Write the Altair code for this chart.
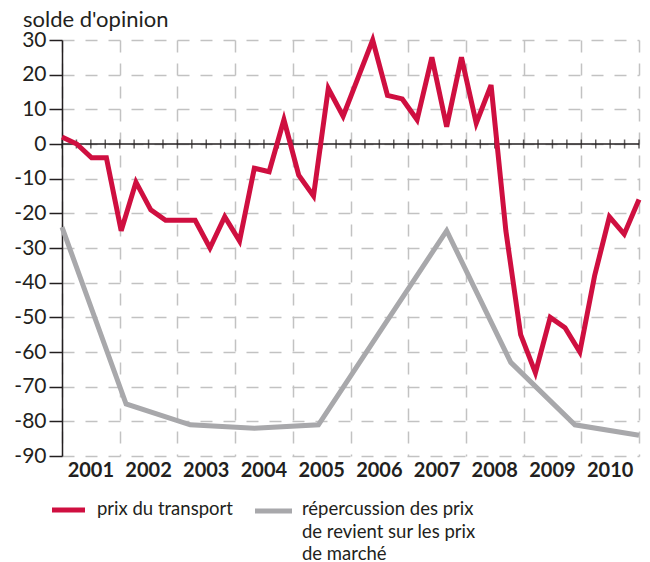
import altair as alt
import pandas as pd

# ---- data ----
quarters = list(range(40))  # 2001 Q1 .. 2010 Q4
prix_transport = [2, 0, -4, -4, -25, -11, -19, -22, -22, -22,
                  -30, -21, -28, -7, -8, 7, -9, -15, 16, 8,
                  19, 30, 14, 13, 7, 25, 5, 25, 6, 17,
                  -25, -55, -66, -50, -53, -60, -38, -21, -26, -16]
repercussion_points = list(range(10))
repercussion = [-24, -75, -81, -82, -81, -53, -25, -63, -81, -84]
years = ["2001", "2002", "2003", "2004", "2005", "2006", "2007", "2008", "2009", "2010"]
y_ticks = list(range(-90, 31, 10))

RED = "#cf0f40"
GRAY = "#a8a8ab"
INK = "#231f20"
GRID = "#c2c2c2"
FONT = "Lato"

span = len(quarters) - 1
xs = alt.Scale(domain=[0, span], nice=False, zero=False)
ys = alt.Scale(domain=[-90, 30], nice=False, zero=False)

red_df = pd.DataFrame({"q": quarters, "v": prix_transport})
gray_df = pd.DataFrame({"q": [i * span / (len(repercussion_points) - 1) for i in repercussion_points],
                        "v": repercussion})
year_bounds = [round(k * span / len(years), 4) for k in range(len(years) + 1)]
year_df = pd.DataFrame({"x": [b + span / len(years) / 2 for b in year_bounds[:-1]], "label": years})
qt_df = pd.DataFrame({"x": [k * span / 40 for k in range(41)], "y": [0] * 41})
one = pd.DataFrame({"a": [0]})

x_axis = alt.Axis(values=year_bounds, grid=True, gridDash=[12, 11], gridColor=GRID,
                  gridWidth=1.5, labels=False, ticks=False, domain=False, title=None)
y_axis = alt.Axis(values=y_ticks, grid=True, gridDash=[12, 11], gridColor=GRID, gridWidth=1.5,
                  tickSize=13, tickColor=INK, tickWidth=1.5, domainColor=INK, domainWidth=1.5,
                  labelFont=FONT, labelFontSize=21, labelColor=INK, labelPadding=3,
                  labelExpr="'' + datum.value",
                  labelOverlap=False, labelFlush=False, labelBound=False, title=None)

gray_line = alt.Chart(gray_df).mark_line(color=GRAY, strokeWidth=5).encode(
    x=alt.X("q:Q", scale=xs, axis=x_axis),
    y=alt.Y("v:Q", scale=ys, axis=y_axis),
)

red_line = alt.Chart(red_df).mark_line(color=RED, strokeWidth=5).encode(
    x=alt.X("q:Q", scale=xs, axis=x_axis),
    y=alt.Y("v:Q", scale=ys, axis=y_axis),
)

zero_line = alt.Chart(qt_df.head(1)).mark_rule(color=INK, strokeWidth=1.5).encode(
    y=alt.Y("y:Q", scale=ys, axis=y_axis)
)

qticks = alt.Chart(qt_df).mark_tick(orient="vertical", size=9, thickness=1.5, color=INK).encode(
    x=alt.X("x:Q", scale=xs, axis=x_axis),
    y=alt.Y("y:Q", scale=ys, axis=y_axis),
)

year_labels = alt.Chart(year_df).mark_text(font=FONT, fontSize=20, fontWeight="bold",
                                           color=INK, baseline="middle").encode(
    x=alt.X("x:Q", scale=xs, axis=x_axis),
    y=alt.value(431),
    text="label:N",
)

title = alt.Chart(one).mark_text(font=FONT, fontSize=22, color=INK, align="left",
                                 baseline="alphabetic").encode(
    x=alt.value(-39), y=alt.value(-13), text=alt.value("solde d'opinion"))

leg_red = alt.Chart(one).mark_rule(color=RED, strokeWidth=5).encode(
    x=alt.value(-10), x2=alt.value(23), y=alt.value(470))
leg_gray = alt.Chart(one).mark_rule(color=GRAY, strokeWidth=5).encode(
    x=alt.value(193), x2=alt.value(230), y=alt.value(471))
leg_red_txt = alt.Chart(one).mark_text(font=FONT, fontSize=18.5, color=INK, align="left",
                                       baseline="alphabetic").encode(
    x=alt.value(35), y=alt.value(475), text=alt.value("prix du transport"))
leg_gray_txt = alt.Chart(one).mark_text(font=FONT, fontSize=18.5, color=INK, align="left",
                                        baseline="alphabetic", lineHeight=22.5).encode(
    x=alt.value(240), y=alt.value(475),
    text=alt.value(["répercussion des prix", "de revient sur les prix", "de marché"]))

chart = alt.layer(
    gray_line, zero_line, qticks, red_line, year_labels, title,
    leg_red, leg_gray, leg_red_txt, leg_gray_txt,
).properties(
    width=577, height=416,
    autosize=alt.AutoSizeParams(type="none"),
    padding={"left": 54, "top": 32, "right": 3, "bottom": 112},
).configure_view(stroke=None).configure_axis(labelOverlap=False)

chart.save("out.html", embed_options={"renderer": "svg", "actions": False})
